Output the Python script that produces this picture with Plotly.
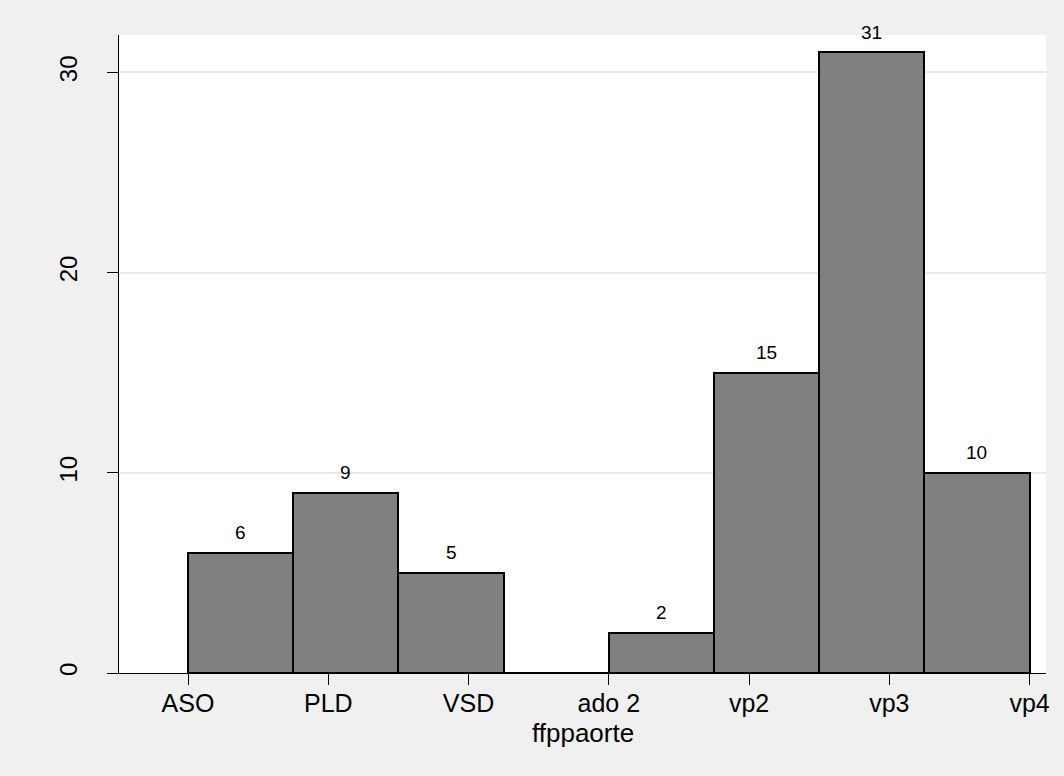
import plotly.graph_objects as go

# histogram of ffppaorte: 8 bins of width 0.75 starting at 1
bin_start = 1.0
bin_width = 0.75
counts = [6, 9, 5, 0, 2, 15, 31, 10]

tick_values = [1, 2, 3, 4, 5, 6, 7]
tick_labels = ["ASO", "PLD", "VSD", "ado 2", "vp2", "vp3", "vp4"]
y_ticks = [0, 10, 20, 30]
x_title = "ffppaorte"

centers = [bin_start + bin_width * (i + 0.5) for i in range(len(counts))]

FONT = "Liberation Sans, Arial, Helvetica, sans-serif"

fig = go.Figure()
fig.add_trace(go.Bar(
    x=centers,
    y=counts,
    width=bin_width,
    marker=dict(color="#808080", line=dict(color="#000000", width=2)),
    hoverinfo="x+y",
))

# count labels above bars
for xc, c in zip(centers, counts):
    if c == 0:
        continue
    fig.add_annotation(
        x=xc, y=c, text=str(c), showarrow=False,
        yanchor="middle", yshift=20,
        font=dict(family=FONT, size=19, color="#000000"),
    )

# x axis title placed by hand (sits tight under the tick labels)
fig.add_annotation(
    x=0.5, y=0, xref="paper", yref="paper",
    text=x_title, showarrow=False,
    yanchor="middle", yshift=-60,
    font=dict(family=FONT, size=26, color="#000000"),
)

fig.update_layout(
    width=1064,
    height=776,
    margin=dict(l=119, r=18, t=35, b=103),
    paper_bgcolor="#F0F0F0",
    plot_bgcolor="#FFFFFF",
    font=dict(family=FONT, size=24, color="#000000"),
    showlegend=False,
    bargap=0,
)

fig.update_xaxes(
    range=[0.508, 7.117],
    tickmode="array",
    tickvals=tick_values,
    ticktext=tick_labels,
    tickfont=dict(size=25),
    ticks="outside",
    ticklen=11,
    tickcolor="#000000",
    ticklabelstandoff=-3,
    showline=True,
    linecolor="#000000",
    linewidth=1,
    showgrid=False,
    zeroline=False,
)

fig.update_yaxes(
    range=[0, 31.87],
    tickmode="array",
    tickvals=y_ticks,
    tickangle=-90,
    tickfont=dict(size=24),
    ticks="outside",
    ticklen=11,
    tickcolor="#000000",
    ticklabelstandoff=20,
    showline=True,
    linecolor="#000000",
    linewidth=1,
    showgrid=True,
    gridcolor="#E8E8E8",
    gridwidth=2,
    zeroline=False,
)

fig.write_html(
    "out.html",
    config={"displayModeBar": False},
    post_script="document.body.style.margin='0';document.body.style.background='#F0F0F0';",
)
